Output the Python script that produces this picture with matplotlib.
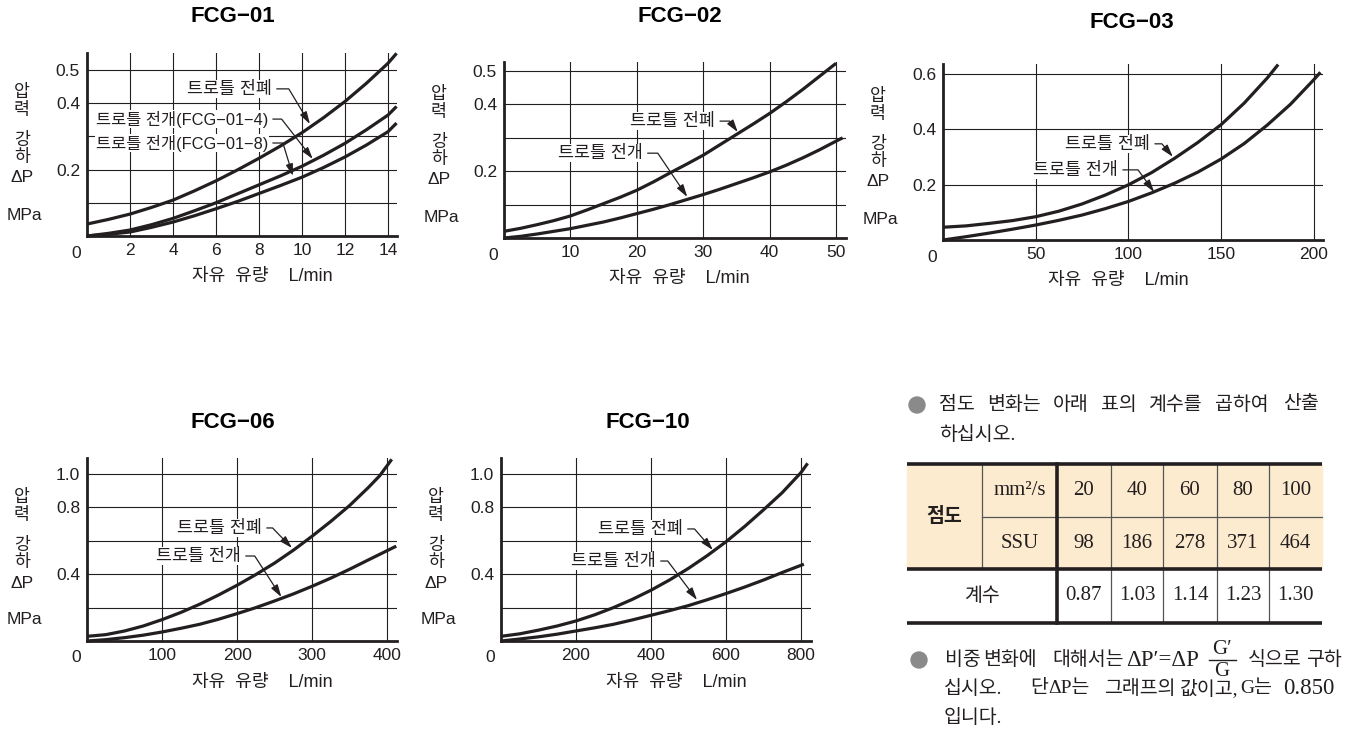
import matplotlib
matplotlib.use('Agg')
import matplotlib.pyplot as plt
from matplotlib.patches import Rectangle, Circle

plt.rcParams['font.family'] = ['Liberation Sans', 'Noto Sans CJK KR']

INK = '#231f20'
W, H = 1347, 734

# - - - - - - - - - - - - - - - - - - - - - - - - - - - - - - - - -
# Curve data (flow L/min, pressure drop MPa)
# - - - - - - - - - - - - - - - - - - - - - - - - - - - - - - - - -

fcg01_x_closed = [0, 1, 2, 3, 4, 5, 6, 7, 8, 9, 10, 11, 12, 13, 14, 14.4]
fcg01_y_closed = [0.036, 0.05, 0.066, 0.086, 0.108, 0.136, 0.166, 0.199,
                  0.234, 0.271, 0.311, 0.356, 0.405, 0.46, 0.52, 0.55]
fcg01_x_open4 = [0, 1, 2, 3, 4, 5, 6, 7, 8, 9, 10, 11, 12, 13, 14, 14.4]
fcg01_y_open4 = [0.0, 0.008, 0.018, 0.034, 0.053, 0.076, 0.1, 0.127,
                 0.154, 0.181, 0.21, 0.243, 0.279, 0.32, 0.364, 0.39]
fcg01_x_open8 = [0, 1, 2, 3, 4, 5, 6, 7, 8, 9, 10, 11, 12, 13, 14, 14.4]
fcg01_y_open8 = [0.0, 0.005, 0.012, 0.026, 0.042, 0.061, 0.082, 0.104,
                 0.128, 0.152, 0.177, 0.206, 0.238, 0.274, 0.314, 0.34]

fcg02_x_closed = [0, 2.5, 5, 7.5, 10, 12.5, 15, 17.5, 20, 22.5, 25, 27.5,
                  30, 32.5, 35, 37.5, 40, 42.5, 45, 47.5, 50]
fcg02_y_closed = [0.02, 0.029, 0.04, 0.052, 0.066, 0.084, 0.103, 0.122,
                  0.143, 0.168, 0.195, 0.221, 0.248, 0.279, 0.31, 0.341,
                  0.373, 0.408, 0.445, 0.484, 0.523]
fcg02_x_open = [0, 2.5, 5, 7.5, 10, 12.5, 15, 17.5, 20, 22.5, 25, 27.5,
                30, 32.5, 35, 37.5, 40, 42.5, 45, 47.5, 50, 51]
fcg02_y_open = [0.0, 0.005, 0.012, 0.02, 0.028, 0.038, 0.048, 0.06,
                0.073, 0.086, 0.1, 0.115, 0.13, 0.146, 0.163, 0.18,
                0.198, 0.218, 0.24, 0.264, 0.29, 0.3]

fcg03_x_closed = [0, 12.5, 25, 37.5, 50, 62.5, 75, 87.5, 100, 112.5, 125,
                  137.5, 150, 162.5, 175, 180.8]
fcg03_y_closed = [0.046, 0.051, 0.06, 0.07, 0.084, 0.104, 0.13, 0.162,
                  0.199, 0.243, 0.295, 0.352, 0.416, 0.494, 0.585, 0.633]
fcg03_x_open = [0, 12.5, 25, 37.5, 50, 62.5, 75, 87.5, 100, 112.5, 125,
                137.5, 150, 162.5, 175, 187.5, 200, 203.6]
fcg03_y_open = [0.0, 0.012, 0.025, 0.039, 0.054, 0.071, 0.09, 0.113,
                0.139, 0.17, 0.205, 0.245, 0.292, 0.348, 0.415, 0.49,
                0.578, 0.605]

fcg06_x_closed = [0, 25, 50, 75, 100, 125, 150, 175, 200, 225, 250, 275,
                  300, 325, 350, 375, 390, 406]
fcg06_y_closed = [0.028, 0.038, 0.06, 0.09, 0.128, 0.171, 0.22, 0.275,
                  0.334, 0.398, 0.467, 0.544, 0.628, 0.717, 0.812, 0.92,
                  0.99, 1.088]
fcg06_x_open = [0, 25, 50, 75, 100, 125, 150, 175, 200, 225, 250, 275,
                300, 325, 350, 375, 412]
fcg06_y_open = [0.0, 0.008, 0.02, 0.035, 0.054, 0.076, 0.1, 0.13, 0.164,
                0.2, 0.24, 0.282, 0.328, 0.377, 0.43, 0.486, 0.568]

fcg10_x_closed = [0, 50, 100, 150, 200, 250, 300, 350, 400, 450, 500, 550,
                  600, 650, 700, 750, 800, 818]
fcg10_y_closed = [0.028, 0.043, 0.065, 0.09, 0.12, 0.157, 0.2, 0.249,
                  0.304, 0.366, 0.435, 0.511, 0.594, 0.686, 0.785, 0.888,
                  1.008, 1.064]
fcg10_x_open = [0, 50, 100, 150, 200, 250, 300, 350, 400, 450, 500, 550,
                600, 650, 700, 750, 808]
fcg10_y_open = [0.0, 0.012, 0.025, 0.041, 0.06, 0.079, 0.1, 0.126, 0.154,
                0.182, 0.212, 0.247, 0.284, 0.323, 0.365, 0.41, 0.46]

# Viscosity correction table
visc_mm2s = [20, 40, 60, 80, 100]
visc_ssu = [98, 186, 278, 371, 464]
visc_coef = ['0.87', '1.03', '1.14', '1.23', '1.30']

LBL_CLOSED = '트로틀 전폐'
LBL_OPEN = '트로틀 전개'

# - - - - - - - - - - - - - - - - - - - - - - - - - - - - - - - - -
# Panel layout (pixel rectangles: left, top, right, bottom)
# notes: (text, text anchor, arrow tip, leader angle, font size)
# - - - - - - - - - - - - - - - - - - - - - - - - - - - - - - - - -

panels = [
    dict(title='FCG−01', tpos=(233, 17), rect=(87, 53, 397, 236),
         xmax=14.42, ymax=0.551,
         xticks=[2, 4, 6, 8, 10, 12, 14],
         yticks=[0.1, 0.2, 0.3, 0.4, 0.5],
         ylabels=['', '0.2', '', '0.4', '0.5'],
         curves=[(fcg01_x_closed, fcg01_y_closed),
                 (fcg01_x_open4, fcg01_y_open4),
                 (fcg01_x_open8, fcg01_y_open8)],
         notes=[(LBL_CLOSED, (8.6, 0.443), (10.37, 0.337), -59, 12.5),
                ('트로틀 전개(FCG−01−4)', (8.42, 0.352), (10.5, 0.232), -52, 11.8),
                ('트로틀 전개(FCG−01−8)', (8.42, 0.28), (9.58, 0.181), -73, 11.8)]),
    dict(title='FCG−02', tpos=(680, 17), rect=(504, 62, 846, 238),
         xmax=51.5, ymax=0.527,
         xticks=[10, 20, 30, 40, 50],
         yticks=[0.1, 0.2, 0.3, 0.4, 0.5],
         ylabels=['', '0.2', '', '0.4', '0.5'],
         curves=[(fcg02_x_closed, fcg02_y_closed),
                 (fcg02_x_open, fcg02_y_open)],
         notes=[(LBL_CLOSED, (31.8, 0.35), (35.2, 0.317), -54, 12.5),
                (LBL_OPEN, (20.9, 0.254), (27.6, 0.123), -56, 12.5)]),
    dict(title='FCG−03', tpos=(1132, 22), rect=(943, 64, 1323, 240),
         xmax=205, ymax=0.635,
         xticks=[50, 100, 150, 200],
         yticks=[0.2, 0.4, 0.6],
         ylabels=['0.2', '0.4', '0.6'],
         curves=[(fcg03_x_closed, fcg03_y_closed),
                 (fcg03_x_open, fcg03_y_open)],
         notes=[(LBL_CLOSED, (111.7, 0.347), (124, 0.30), -50, 12.5),
                (LBL_OPEN, (94.4, 0.253), (113.9, 0.173), -54, 12.5)]),
    dict(title='FCG−06', tpos=(233, 422), rect=(87, 458, 397, 641),
         xmax=413, ymax=1.096,
         xticks=[100, 200, 300, 400],
         yticks=[0.2, 0.4, 0.6, 0.8, 1.0],
         ylabels=['', '0.4', '', '0.8', '1.0'],
         curves=[(fcg06_x_closed, fcg06_y_closed),
                 (fcg06_x_open, fcg06_y_open)],
         notes=[(LBL_CLOSED, (233, 0.677), (273, 0.557), -46, 12.5),
                (LBL_OPEN, (205, 0.509), (259, 0.263), -57, 12.5)]),
    dict(title='FCG−10', tpos=(648, 422), rect=(501, 458, 811, 641),
         xmax=827, ymax=1.096,
         xticks=[200, 400, 600, 800],
         yticks=[0.2, 0.4, 0.6, 0.8, 1.0],
         ylabels=['', '0.4', '', '0.8', '1.0'],
         curves=[(fcg10_x_closed, fcg10_y_closed),
                 (fcg10_x_open, fcg10_y_open)],
         notes=[(LBL_CLOSED, (485, 0.671), (565, 0.545), -49, 12.5),
                (LBL_OPEN, (413, 0.479), (523, 0.246), -53, 12.5)]),
]

fig = plt.figure(figsize=(W / 100, H / 100), dpi=100)

# Overlay in pixel coordinates for free text and the table.
ov = fig.add_axes([0, 0, 1, 1])
ov.set_xlim(0, W)
ov.set_ylim(H, 0)
ov.axis('off')


def add_ax(l, t, r, b):
    return fig.add_axes([l / W, 1 - b / H, (r - l) / W, (b - t) / H])


ylab_chars = ['압', '력', '강', '하', 'ΔP']
ylab_dy = [144, 126, 96, 79, 58]

for p in panels:
    l, t, r, b = p['rect']
    ax = add_ax(l, t, r, b)
    ax.set_xlim(0, p['xmax'])
    ax.set_ylim(0, p['ymax'])
    ax.set_xticks(p['xticks'])
    ax.set_xticklabels([str(v) for v in p['xticks']])
    ax.set_yticks(p['yticks'])
    ax.set_yticklabels(p['ylabels'])
    ax.tick_params(length=0, labelsize=12.5, labelcolor=INK, pad=5)
    ax.grid(True, color=INK, lw=0.8)
    ax.set_axisbelow(True)
    for s in ('top', 'right'):
        ax.spines[s].set_visible(False)
    for s in ('left', 'bottom'):
        ax.spines[s].set_linewidth(2.0)
        ax.spines[s].set_color(INK)
        ax.spines[s].set_zorder(5)

    for xs, ys in p['curves']:
        ax.plot(xs, ys, color=INK, lw=2.3, clip_on=False, zorder=4,
                solid_capstyle='butt', solid_joinstyle='round')

    for txt, tpos, tip, ang, fs in p['notes']:
        ax.annotate(txt, xy=tip, xytext=tpos, ha='right', va='center',
                    fontsize=fs, color=INK, zorder=3,
                    family=['Liberation Sans', 'Noto Sans CJK KR'],
                    bbox=dict(fc='white', ec='none', pad=0.5),
                    arrowprops=dict(arrowstyle='-|>,head_length=0.6,head_width=0.18',
                                    color=INK, lw=0.9, shrinkA=3, shrinkB=0,
                                    relpos=(1, 0.5),
                                    connectionstyle=f'angle,angleA=0,angleB={ang},rad=0'))

    # titles, axis labels, origin label
    ov.text(p['tpos'][0], p['tpos'][1], p['title'], ha='center', va='center',
            fontsize=16, fontweight='bold', color='black')
    ov.text(l - 11, b + 17, '0', ha='center', va='center', fontsize=12.5,
            color=INK)
    ov.text(l + 175, b + 41, '자유  유량    L/min', ha='center', va='center',
            fontsize=13, color=INK)
    for ch, dy in zip(ylab_chars, ylab_dy):
        ov.text(l - 65, b - dy, ch, ha='center', va='center', fontsize=12.5,
                color=INK)
    ov.text(l - 63, b - 21, 'MPa', ha='center', va='center', fontsize=12.5,
            color=INK)

# - - - - - - - - - - - - - - - - - - - - - - - - - - - - - - - - -
# Notes and viscosity table
# - - - - - - - - - - - - - - - - - - - - - - - - - - - - - - - - -

SERIF_KR = ['Liberation Serif', 'Noto Sans CJK KR']
BULLET = '#8a8a8a'


def words(ws, xs, y, fs=14):
    for w, x in zip(ws, xs):
        ov.text(x, y, w, ha='left', va='center', fontsize=fs, color=INK,
                family=SERIF_KR)


ov.add_patch(Circle((917, 405), 8, color=BULLET))
ov.add_patch(Circle((919, 660), 8, color=BULLET))

words(['점도', '변화는', '아래', '표의', '계수를', '곱하여', '산출'],
      [939, 987, 1053, 1101, 1148, 1215, 1283], 405)
words(['하십시오.'], [939], 435)

# table geometry
tx0, tx1 = 907, 1322
ty0, ty_mid, ty1, ty2 = 464, 517, 569, 623
col_x = [907, 982, 1057, 1111, 1163, 1217, 1269, 1322]
ov.add_patch(Rectangle((tx0, ty0), tx1 - tx0, ty1 - ty0, color='#fdebd0',
                       zorder=1))
ov.plot([col_x[1], tx1], [ty_mid, ty_mid], color='#555555', lw=0.9, zorder=2)
ov.plot([col_x[1], col_x[1]], [ty0, ty1], color='#555555', lw=0.9, zorder=2)
for cx in col_x[3:-1]:
    ov.plot([cx, cx], [ty0, ty2], color='#555555', lw=0.9, zorder=2)
ov.plot([col_x[2], col_x[2]], [ty0, ty2], color=INK, lw=2.6, zorder=3)
for yy in (ty0, ty1, ty2):
    ov.plot([tx0, tx1], [yy, yy], color=INK, lw=2.6, zorder=3,
            solid_capstyle='butt')

ov.text((col_x[0] + col_x[1]) / 2, (ty0 + ty1) / 2, '점도', ha='center',
        va='center', fontsize=14, fontweight='bold', color=INK,
        family=SERIF_KR, zorder=4)
ov.text((col_x[1] + col_x[2]) / 2, (ty0 + ty_mid) / 2, 'mm²/s',
        ha='center', va='center', fontsize=15, color=INK, family=SERIF_KR,
        zorder=4)
ov.text((col_x[1] + col_x[2]) / 2, (ty_mid + ty1) / 2, 'SSU', ha='center',
        va='center', fontsize=15, color=INK, family=SERIF_KR, zorder=4)
ov.text((col_x[0] + col_x[2]) / 2, (ty1 + ty2) / 2, '계수', ha='center',
        va='center', fontsize=14, color=INK, family=SERIF_KR, zorder=4)
for i in range(5):
    cx = (col_x[i + 2] + col_x[i + 3]) / 2
    ov.text(cx, (ty0 + ty_mid) / 2, str(visc_mm2s[i]), ha='center',
            va='center', fontsize=15, color=INK, family=SERIF_KR, zorder=4)
    ov.text(cx, (ty_mid + ty1) / 2, str(visc_ssu[i]), ha='center',
            va='center', fontsize=15, color=INK, family=SERIF_KR, zorder=4)
    ov.text(cx, (ty1 + ty2) / 2, visc_coef[i], ha='center',
            va='center', fontsize=15, color=INK, family=SERIF_KR, zorder=4)

# specific gravity note with the  dP' = dP * G'/G  formula
words(['비중', '변화에', '대해서는'], [945, 983, 1052], 660)
ov.text(1126, 661, 'ΔP′=ΔP', ha='left', va='center', fontsize=16.5,
        color=INK, family=SERIF_KR)
ov.text(1222, 649, 'G′', ha='center', va='center', fontsize=15, color=INK,
        family=SERIF_KR)
ov.plot([1209, 1236], [660, 660], color=INK, lw=1.0)
ov.text(1222, 672, 'G', ha='center', va='center', fontsize=15, color=INK,
        family=SERIF_KR)
words(['식으로', '구하'], [1248, 1306], 660)

words(['십시오.', '단', 'ΔP는', '그래프의', '값이고,', 'G는'],
      [944, 1030, 1048, 1104, 1180, 1240], 689)
words(['0.850'], [1283], 689, fs=16.5)
words(['입니다.'], [944], 718)

fig.savefig('out.png', dpi=100)
